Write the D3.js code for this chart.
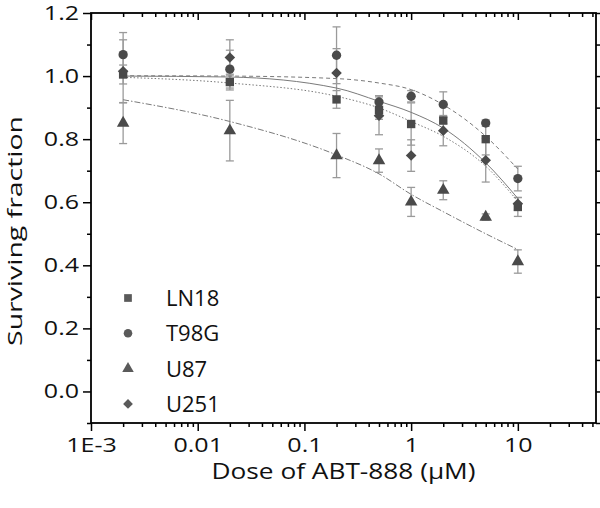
<!DOCTYPE html>
<html>
<head>
<meta charset="utf-8">
<script src="https://cdn.jsdelivr.net/npm/d3@7"></script>
<style>
  body { margin: 0; background: #fff; }
  text { font-family: "Open Sans", sans-serif; fill: #111; }
</style>
</head>
<body>
<div class="chart"></div>
<script>
// data
var doses = [0.002, 0.02, 0.2, 0.5, 1, 2, 5, 10];
var seriesNames = ["LN18", "T98G", "U87", "U251"];

var ln18 = [1.005, 0.981, 0.926, 0.893, 0.848, 0.859, 0.800, 0.585];
var ln18Err = [0.03, 0.025, 0.028, 0.03, 0.067, 0.01, 0.05, 0.03];
var t98g = [1.068, 1.022, 1.066, 0.918, 0.936, 0.910, 0.851, 0.675];
var t98gErr = [0.07, 0.06, 0.09, 0.02, 0.018, 0.04, 0.01, 0.039];
var u87 = [0.851, 0.827, 0.748, 0.732, 0.601, 0.638, 0.553, 0.412];
var u87Err = [0.065, 0.096, 0.07, 0.037, 0.046, 0.03, 0.01, 0.037];
var u251 = [1.015, 1.059, 1.010, 0.874, 0.748, 0.827, 0.733, 0.595];
var u251Err = [0.10, 0.056, 0.077, 0.06, 0.05, 0.048, 0.069, 0.02];

// fitted curves, sampled off the figure at the same doses
var ln18Fit = [0.996, 0.978, 0.936, 0.899, 0.856, 0.809, 0.714, 0.603];
var t98gFit = [1.001, 1.000, 0.992, 0.978, 0.957, 0.909, 0.809, 0.705];
var u87Fit = [0.925, 0.856, 0.750, 0.690, 0.625, 0.570, 0.500, 0.450];
var u251Fit = [1.000, 0.997, 0.962, 0.920, 0.885, 0.835, 0.725, 0.612];

var yTicks = [0, 0.2, 0.4, 0.6, 0.8, 1.0, 1.2];
var yMinor = [-0.1, 0.1, 0.3, 0.5, 0.7, 0.9, 1.1];
var xTicks = [0.001, 0.01, 0.1, 1, 10];
var xTickLabels = ["1E-3", "0.01", "0.1", "1", "10"];

// diamond = square turned 45 degrees
var series = [
  { name: seriesNames[0], values: ln18, err: ln18Err, fit: ln18Fit, symbol: d3.symbolSquare, size: 70, rot: 0, dash: "1.5,2" },
  { name: seriesNames[1], values: t98g, err: t98gErr, fit: t98gFit, symbol: d3.symbolCircle, size: 68, rot: 0, dash: "4,3" },
  { name: seriesNames[2], values: u87, err: u87Err, fit: u87Fit, symbol: d3.symbolTriangle, size: 68, rot: 0, dash: "6,2,1.5,2" },
  { name: seriesNames[3], values: u251, err: u251Err, fit: u251Fit, symbol: d3.symbolSquare, size: 56, rot: 45, dash: null }
];

// margin convention
const margin = ({top: 13, right: 4, bottom: 85, left: 91});
const w = 600 - margin.left - margin.right;
const h = 508 - margin.top - margin.bottom;

var svg = d3.select(".chart")
    .append("svg")
    .attr("width", 600)
    .attr("height", 508)
    .append("g")
    .attr("transform", "translate(" + margin.left + "," + margin.top + ")");

var x = d3.scaleLog()
    .domain([0.001, 54])
    .range([0, w]);
var y = d3.scaleLinear()
    .domain([-0.1, 1.2])
    .range([h, 0]);

// the original text is drawn wide, so stretch glyphs sideways
function stretch(sel, k) {
  sel.each(function() {
    var len = this.getComputedTextLength();
    d3.select(this)
        .attr("textLength", len * k)
        .attr("lengthAdjust", "spacingAndGlyphs");
  });
}

// minor ticks on the log axis: 2..9 of each decade
var xMinor = [];
[0.001, 0.01, 0.1, 1, 10].forEach(function(dec) {
  for (var k = 2; k <= 9; k++) {
    if (dec * k <= 54) xMinor.push(dec * k);
  }
});

// error bars
var errG = svg.append("g")
    .attr("stroke", "#9a9a9a")
    .attr("stroke-width", 1.3)
    .attr("fill", "none");
series.forEach(function(s) {
  doses.forEach(function(d, i) {
    var cx = x(d), lo = y(s.values[i] - s.err[i]), hi = y(s.values[i] + s.err[i]);
    errG.append("line").attr("x1", cx).attr("x2", cx).attr("y1", lo).attr("y2", hi);
    errG.append("line").attr("x1", cx - 4).attr("x2", cx + 4).attr("y1", lo).attr("y2", lo);
    errG.append("line").attr("x1", cx - 4).attr("x2", cx + 4).attr("y1", hi).attr("y2", hi);
  });
});

// fitted lines
var line = d3.line()
    .x(function(d) { return x(d[0]); })
    .y(function(d) { return y(d[1]); })
    .curve(d3.curveMonotoneX);
series.forEach(function(s) {
  svg.append("path")
      .datum(doses.map(function(d, i) { return [d, s.fit[i]]; }))
      .attr("d", line)
      .attr("fill", "none")
      .attr("stroke", "#7a7a7a")
      .attr("stroke-width", 1)
      .attr("stroke-dasharray", s.dash);
});

// markers
series.forEach(function(s) {
  svg.append("g").selectAll("path")
      .data(doses.map(function(d, i) { return [d, s.values[i]]; }))
      .enter()
      .append("path")
      .attr("transform", function(d) {
        return "translate(" + x(d[0]) + "," + y(d[1]) + ") rotate(" + s.rot + ")";
      })
      .attr("d", d3.symbol().type(s.symbol).size(s.size))
      .attr("fill", "#4a4a4a");
});

// axes
function styleAxis(g) {
  g.select(".domain").remove();
  g.selectAll("line").attr("stroke", "#000").attr("stroke-width", 1.5);
  g.selectAll("text").style("font-size", "20px").attr("fill", "#111");
  stretch(g.selectAll("text"), 1.25);
}

svg.append("g")
    .call(d3.axisLeft(y).tickValues(yTicks).tickSize(8).tickPadding(4).tickFormat(d3.format(".1f")))
    .call(styleAxis);
svg.append("g")
    .call(d3.axisLeft(y).tickValues(yMinor).tickSize(4).tickFormat(""))
    .call(styleAxis);
svg.append("g")
    .attr("transform", "translate(" + w + ",0)")
    .call(d3.axisLeft(y).tickValues(yTicks).tickSize(-7).tickFormat(""))
    .call(styleAxis);
svg.append("g")
    .attr("transform", "translate(" + w + ",0)")
    .call(d3.axisLeft(y).tickValues(yMinor).tickSize(-4).tickFormat(""))
    .call(styleAxis);

svg.append("g")
    .attr("transform", "translate(0," + h + ")")
    .call(d3.axisBottom(x).tickValues(xTicks).tickSize(8).tickPadding(7)
      .tickFormat(function(d, i) { return xTickLabels[i]; }))
    .call(styleAxis);
svg.append("g")
    .attr("transform", "translate(0," + h + ")")
    .call(d3.axisBottom(x).tickValues(xMinor).tickSize(4).tickFormat(""))
    .call(styleAxis);
svg.append("g")
    .call(d3.axisBottom(x).tickValues(xTicks).tickSize(7).tickFormat(""))
    .call(styleAxis);
svg.append("g")
    .call(d3.axisBottom(x).tickValues(xMinor).tickSize(4).tickFormat(""))
    .call(styleAxis);

// frame
svg.append("rect")
    .attr("width", w)
    .attr("height", h)
    .attr("fill", "none")
    .attr("stroke", "#000")
    .attr("stroke-width", 1.8);

// axis titles
svg.append("text")
    .attr("x", w / 2)
    .attr("y", h + 56)
    .attr("text-anchor", "middle")
    .style("font-size", "21px")
    .text("Dose of ABT-888 (\u03bcM)")
    .call(stretch, 1.25);
svg.append("text")
    .attr("transform", "translate(" + (-69) + "," + 218 + ") rotate(-90)")
    .attr("text-anchor", "middle")
    .style("font-size", "20px")
    .text("Surviving fraction")
    .call(stretch, 1.42);

// legend
var legend = svg.append("g")
    .attr("transform", "translate(" + (128 - margin.left) + "," + (298 - margin.top) + ")");
series.forEach(function(s, i) {
  var row = legend.append("g").attr("transform", "translate(0," + (i * 35.3) + ")");
  row.append("path")
      .attr("transform", "rotate(" + s.rot + ")")
      .attr("d", d3.symbol().type(s.symbol).size(s.size * 0.85))
      .attr("fill", "#5a5a5a");
  row.append("text")
      .attr("x", 38)
      .attr("dy", "0.36em")
      .style("font-size", "22px")
      .text(s.name);
});
</script>
</body>
</html>
